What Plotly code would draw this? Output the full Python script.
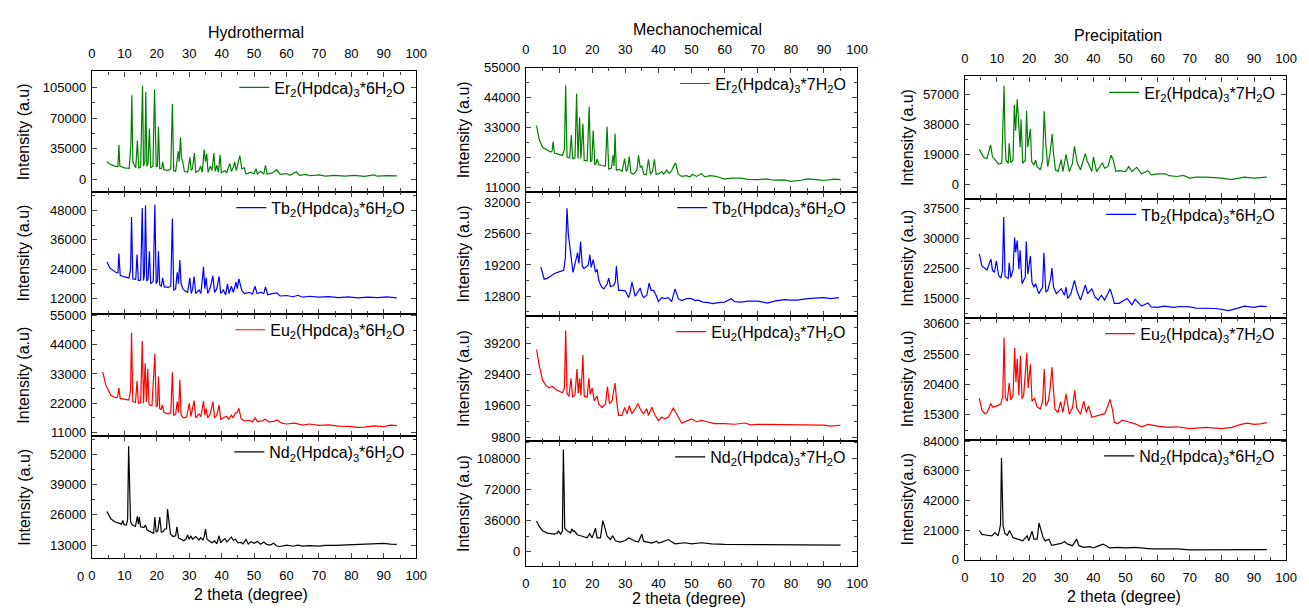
import plotly.graph_objects as go

W, H = 1309, 613

# ---------------- data (2 theta, intensity) ----------------
hydro_er = [(4.5,20000),(5.5,17500),(7,15000),(8.0,14500),(8.3,39000),(8.6,15000),(10,13000),(11.5,12500),(12.0,40000),(12.3,96000),
            (12.6,20000),(13.5,13000),(14.0,44000),(14.4,13000),(15.0,14000),(15.6,107000),(15.9,15000),(16.3,20000),(16.6,100000),(16.9,15000),
            (17.3,18000),(17.7,58000),(18.1,13000),(18.8,15000),(19.3,103000),(19.6,40000),(19.8,14000),(20.2,15000),(20.5,60000),(20.9,12000),
            (21.5,12000),(21.8,20000),(22.2,11000),(23.5,10000),(24.3,12000),(24.8,86000),(25.2,10000),(25.8,9000),(26.3,25000),(26.6,32000),
            (26.9,20000),(27.3,48000),(27.6,25000),(28.0,20000),(28.5,9000),(29.5,8000),(30.2,25000),(30.6,10000),(31.0,12000),(31.6,30000),
            (32.0,8000),(33.0,10000),(33.5,15000),(34.0,8000),(34.6,34000),(35.0,20000),(35.4,29000),(35.8,8000),(36.5,15000),(37.0,10000),
            (37.6,30000),(38.0,9000),(38.5,16000),(39.0,8000),(39.5,28000),(39.9,7500),(41.0,10000),(41.5,7000),(42.5,18000),(43.0,9000),
            (43.6,14000),(44.0,20000),(44.5,10000),(45.0,18000),(45.6,27000),(46.2,12000),(47.0,13000),(47.5,6000),(49.0,8000),(50.0,6000),
            (50.6,12000),(51.0,6000),(52.0,9000),(53.0,6000),(53.5,16000),(54.0,6000),(55.5,7000),(57.0,11000),(58.0,5500),(60.0,6500),
            (61.0,4500),(63.0,8500),(64.0,4500),(66.0,5500),(67.0,4000),(70.0,5000),(72.0,3500),(75.0,4500),(78.0,3500),(81.0,4500),
            (84.0,3200),(87.0,5000),(88.0,3500),(91.0,4200),(94.0,3800)]

hydro_tb = [(4.6,27000),(5.5,24500),(7.3,22700),(8.0,22500),(8.3,30400),(8.7,21500),(10,20800),(11.4,20400),(11.9,24000),(12.2,45300),
            (12.6,20000),(13.5,19800),(13.9,30000),(14.3,19300),(15.0,19500),(15.5,49000),(15.9,19300),(16.2,22000),(16.5,50000),(16.9,19000),
            (17.3,20000),(17.7,31300),(18.1,18000),(18.9,19000),(19.4,50300),(19.8,18000),(20.2,19000),(20.5,31300),(20.9,17500),(21.4,17000),
            (21.8,20400),(22.3,16700),(23.5,16500),(24.3,17000),(24.8,44700),(25.2,15300),(25.8,16000),(26.3,22700),(26.7,18000),(27.1,27700),
            (27.5,18000),(28.0,16000),(28.8,15000),(29.5,14500),(30.2,20400),(30.6,14000),(31.0,15500),(31.5,21000),(32.0,14000),(33.0,15500),
            (33.6,14000),(34.4,25000),(34.8,16000),(35.2,20400),(35.7,14000),(36.5,16500),(37.3,21300),(37.8,14500),(38.5,16000),(39.2,21000),
            (39.7,14000),(40.5,15500),(41.2,13500),(41.8,18000),(42.3,14000),(43.0,17000),(43.6,14500),(44.4,18700),(44.8,16000),(45.3,20000),
            (46.2,15300),(47.0,14000),(48.5,14500),(49.5,13800),(50.3,17000),(50.9,14000),(52.0,14500),(53.0,14000),(53.5,16700),(54.2,13500),
            (55.5,14000),(57.0,14300),(58.0,13000),(60.0,13200),(62.0,12700),(63.5,13300),(65.0,12500),(67.0,12900),(70.0,12500),(73.0,12700),
            (76.0,12300),(79.0,12600),(82.0,12200),(85.0,12500),(88.0,12300),(91.0,12600),(94.0,12200)]

hydro_eu = [(3.3,33800),(4.3,28700),(5.8,25000),(7.3,24000),(7.9,24300),(8.3,27700),(8.7,23800),(10.0,23400),(11.4,23200),(11.9,27000),
            (12.2,48500),(12.6,22600),(13.4,22300),(13.9,30300),(14.3,22000),(15.0,22200),(15.5,45400),(15.9,22000),(16.4,37000),(16.8,22500),
            (17.2,35000),(17.6,21500),(18.5,21000),(19.4,40600),(19.8,20800),(20.2,21000),(20.5,32000),(20.9,20000),(21.3,19500),(21.7,21400),
            (22.2,18500),(23.5,18000),(24.3,18500),(24.8,33600),(25.2,17500),(25.8,17800),(26.3,22600),(26.7,18500),(27.1,30800),(27.5,17500),
            (28.2,16500),(29.2,16800),(30.0,22000),(30.5,17000),(31.0,20100),(31.5,23000),(32.0,16500),(33.0,18000),(33.6,17000),(34.4,22800),
            (34.8,17500),(35.2,20000),(35.7,16500),(36.5,18000),(37.3,22600),(37.8,16500),(38.5,17500),(39.2,21400),(39.7,16000),(40.5,16500),
            (41.5,17100),(42.2,16000),(43.0,17500),(43.5,16500),(44.2,18300),(44.8,18500),(45.3,20100),(46.0,16200),(47.0,15300),(48.5,15600),
            (49.5,15000),(50.3,16500),(51.0,15100),(52.5,15400),(53.5,16000),(54.5,15000),(56.0,15200),(57.0,15700),(58.5,14500),(60.0,14200),
            (62.5,14500),(65.0,13800),(67.0,14200),(70.0,13700),(73.0,13900),(76.0,13400),(79.0,13300),(82.0,12900),(84.0,13000),(87.0,13500),
            (90.0,13200),(92.0,13800),(94.0,13600)]

hydro_nd = [(4.6,27400),(5.8,24300),(7.0,23000),(8.4,22300),(9.1,22000),(9.5,23600),(9.9,21800),(10.6,21600),(11.0,24000),(11.3,55500),
            (11.6,41600),(11.9,23000),(12.5,21600),(13.4,21000),(14.0,25400),(14.3,22000),(14.6,25000),(15.0,20900),(16.0,20500),(16.5,21600),
            (17.0,19500),(18.0,18800),(19.0,18100),(19.4,25000),(19.8,18500),(20.3,19100),(20.9,25000),(21.4,18500),(22.0,18800),(22.5,19900),
            (23.0,20000),(23.3,28500),(23.7,24000),(24.2,17800),(25.0,16700),(25.8,17000),(26.2,20900),(26.7,16000),(27.5,15500),(28.3,14900),
            (29.0,15600),(29.5,17400),(30.0,15500),(30.5,17000),(31.0,15500),(32.0,16700),(33.0,15200),(33.5,16200),(34.2,15200),(34.6,16500),
            (35.0,19900),(35.5,15500),(36.2,14800),(37.0,14000),(37.8,14800),(38.5,13500),(39.2,17000),(39.7,14000),(40.3,15000),(41.0,15800),
            (41.6,14300),(42.2,15200),(43.0,16500),(43.6,15000),(44.2,15600),(45.0,14000),(46.0,14200),(46.6,13500),(47.5,15400),(48.2,13500),
            (49.0,14500),(50.0,13800),(51.0,14600),(52.0,13400),(53.0,14300),(54.0,13200),(55.0,13000),(56.0,13800),(57.0,12600),(58.0,12400),
            (60.0,13000),(62.0,12500),(63.5,13000),(65.0,12600),(67.0,12800),(70.0,12600),(72.0,12900),(75.0,12900),(78.0,13100),(80.0,13300),
            (83.0,13200),(86.0,13500),(90.0,13700),(92.0,13400),(94.0,13300)]

mech_er = [(3.2,33800),(4.0,28800),(5.0,25900),(6.5,24700),(7.5,24100),(7.9,24500),(8.2,28000),(8.6,23800),(10.0,23300),(11.0,22900),
           (11.6,25000),(12.0,48500),(12.4,22300),(13.2,22000),(13.7,30400),(14.1,21700),(14.8,22000),(15.3,45500),(15.7,21700),(16.2,36900),
           (16.6,21800),(17.2,34500),(17.6,21000),(18.5,21000),(19.1,40700),(19.5,20500),(19.9,21000),(20.3,32000),(20.8,19500),(21.1,19800),
           (21.5,21500),(22.0,19500),(23.0,19200),(24.0,19000),(24.5,33400),(25.0,17900),(25.8,18300),(26.3,22900),(26.6,19000),(26.9,30900),
           (27.3,17500),(28.2,17800),(29.0,17000),(29.8,21700),(30.3,17000),(30.7,18000),(31.2,22500),(31.7,16500),(32.5,16000),(33.5,17500),
           (34.0,22900),(34.5,18500),(35.0,19000),(35.6,16000),(36.3,15800),(37.0,21500),(37.6,16000),(38.2,17000),(38.8,21500),(39.3,16000),
           (40.2,16200),(41.0,17000),(41.6,16000),(42.5,17500),(43.2,16300),(44.0,17200),(44.5,18700),(45.2,20200),(46.0,16000),(47.0,15200),
           (48.5,15500),(49.5,15000),(50.3,16000),(51.5,15200),(53.0,16200),(54.0,15000),(55.5,15500),(57.0,15300),(58.5,14800),(60.0,14200),
           (62.0,14600),(65.0,14600),(67.0,14100),(70.0,14000),(72.5,14300),(75.0,13800),(78.0,13900),(80.0,13400),(83.0,13800),(85.0,14300),
           (88.0,14000),(90.0,13700),(93.0,14200),(95.0,14000)]

mech_tb = [(4.5,18800),(5.5,16300),(6.5,16500),(7.5,17000),(8.5,17400),(9.5,17700),(10.5,17900),(11.4,18100),(11.9,20700),(12.4,30800),
           (12.8,25500),(13.4,22000),(14.2,17700),(15.0,20000),(15.6,21700),(16.0,19500),(16.5,24000),(17.0,19000),(17.5,18500),(18.0,18700),
           (18.8,19200),(19.3,21300),(19.7,18700),(20.3,20300),(21.0,17700),(21.5,18300),(22.0,16000),(22.8,14700),(23.5,14300),(24.5,15300),
           (25.0,16500),(25.5,14800),(26.5,15000),(27.0,15800),(27.3,19000),(27.7,16000),(28.0,14000),(29.0,14000),(30.0,13900),(31.0,12500),
           (31.5,13700),(32.0,15700),(32.6,13500),(33.0,12800),(34.0,13900),(34.5,14500),(35.0,13200),(35.5,12500),(36.5,13000),(37.2,15500),
           (37.8,14000),(38.5,14000),(39.3,13000),(40.0,11700),(41.0,12500),(42.0,12300),(43.0,12500),(44.0,11700),(45.0,14300),(45.6,13200),
           (46.0,12300),(47.0,11900),(48.5,12300),(50.0,12300),(51.0,11900),(52.0,12000),(53.5,11600),(55.0,11500),(56.5,11300),(58.0,11500),
           (60.0,11600),(62.0,12300),(63.0,11700),(65.0,11600),(67.0,11800),(70.0,11800),(72.0,11500),(73.0,11400),(75.0,11800),(78.0,12100),
           (80.0,12000),(82.0,12000),(85.0,12300),(88.0,12500),(90.0,12500),(92.0,12300),(94.5,12500)]

mech_eu = [(3.2,37200),(4.0,32300),(5.0,27700),(6.0,26000),(7.0,25200),(8.0,25700),(9.0,24700),(10.0,24200),(11.0,23700),(11.6,25000),
           (12.0,43200),(12.4,23500),(13.0,22500),(13.6,28200),(14.1,22300),(14.8,23000),(15.4,31100),(15.8,23500),(16.2,28200),(16.6,22800),
           (17.2,35500),(17.6,22600),(18.5,22300),(19.0,28200),(19.4,23200),(20.0,25200),(20.6,21200),(21.5,22600),(22.0,20100),(23.0,19100),
           (24.0,20100),(24.6,25600),(25.2,20300),(26.0,21100),(26.9,26700),(27.5,20000),(28.0,16600),(29.0,16600),(29.8,19100),(30.5,17100),
           (31.2,19600),(32.0,17100),(33.0,18600),(33.8,20300),(34.5,18600),(35.5,17100),(36.5,18600),(37.0,16600),(38.0,19100),(39.0,16600),
           (40.0,15000),(41.0,16000),(42.0,15500),(43.0,16000),(44.5,18800),(45.5,17100),(46.5,15000),(47.0,14200),(48.5,14800),(50.0,15500),
           (51.5,14600),(53.0,15000),(55.0,14500),(57.0,14000),(60.0,14000),(63.0,13800),(66.0,14200),(68.0,13600),(70.0,13800),(75.0,13700),
           (80.0,13800),(85.0,13700),(90.0,13500),(92.0,13200),(95.0,13500)]

mech_nd = [(3.2,35300),(4.0,29000),(5.0,24100),(6.5,21400),(8.5,20300),(9.5,21400),(9.8,24000),(10.5,20300),(11.0,23700),(11.3,118000),
           (11.5,77800),(11.7,27000),(12.5,24000),(13.5,21400),(13.8,26300),(14.3,23300),(14.6,24000),(15.5,19500),(17.0,17700),(18.5,16000),
           (19.2,20700),(20.0,15800),(21.0,27000),(21.5,15800),(22.5,15800),(23.2,35700),(23.6,30800),(24.5,17700),(25.5,13900),(26.2,18400),
           (27.0,12400),(28.5,10900),(30.0,12800),(31.0,15800),(32.0,13900),(33.0,12000),(34.0,11300),(35.0,20300),(35.5,12000),(37.0,10200),
           (38.0,9800),(39.5,12000),(40.0,9800),(41.0,10900),(43.0,13900),(44.0,11300),(45.0,9000),(48.0,10200),(50.0,9000),(53.0,10200),
           (56.0,9000),(60.0,8300),(65.0,8300),(70.0,7500),(80.0,7500),(90.0,7500),(95.0,7500)]

prec_er = [(4.5,22200),(5.9,17100),(6.9,16500),(8.0,25100),(8.6,17500),(10.5,13000),(11.5,13400),(12.2,62400),(12.5,29800),(12.8,15400),
           (13.5,13400),(13.8,26100),(14.3,13800),(15.0,15400),(15.4,50400),(15.8,34000),(16.3,53900),(16.8,32000),(17.2,23600),(17.5,41200),
           (18.0,13400),(18.8,15400),(19.2,46700),(19.6,23600),(20.4,35000),(20.8,14400),(21.5,12300),(22.0,15400),(22.5,11300),(23.5,9300),
           (24.2,15400),(24.7,46300),(25.2,25700),(25.8,11300),(26.5,19500),(27.2,31900),(27.6,19500),(28.2,9300),(29.0,8200),(30.0,15800),
           (30.5,8200),(31.5,19100),(32.5,8200),(33.5,13400),(34.1,24100),(35.0,13400),(36.0,9300),(37.5,19600),(38.0,15400),(39.5,8200),
           (40.0,17500),(41.0,8200),(42.8,13800),(43.5,10300),(44.5,11300),(45.5,18500),(46.2,15400),(47.0,8200),(48.0,8800),(50.0,8200),
           (51.0,11300),(52.0,8200),(53.5,10900),(55.0,6800),(57.0,8800),(58.0,6200),(60.0,6800),(62.5,6800),(63.5,5600),(66.0,5100),
           (68.0,5800),(70.0,4100),(72.0,4700),(75.0,4700),(78.0,4300),(80.0,4100),(83.0,3100),(85.0,3900),(87.0,4700),(90.0,4100),
           (92.0,4500),(94.0,4700)]

prec_tb = [(4.5,26100),(5.3,23100),(6.9,22100),(8.1,24800),(8.6,22000),(9.2,21500),(9.8,24400),(10.5,20700),(11.2,20100),(11.7,22000),
           (12.1,35300),(12.5,20500),(13.5,20000),(13.8,23900),(14.3,20200),(15.0,22100),(15.5,30200),(15.8,26500),(16.3,29400),(16.8,22300),
           (17.2,27000),(17.8,18700),(18.8,20300),(19.1,29200),(19.6,21100),(20.4,25600),(20.9,19000),(21.5,17800),(22.0,18700),(23.0,16200),
           (24.2,17800),(24.6,26400),(25.2,16600),(25.8,17000),(26.7,19900),(27.1,22600),(27.6,17800),(28.5,16200),(29.5,17000),(30.0,17400),
           (31.0,15800),(31.5,17800),(32.0,15000),(33.0,16200),(34.1,19500),(35.0,16600),(36.0,14600),(37.5,18400),(38.2,16200),(39.5,17400),
           (40.5,15400),(41.5,14600),(42.5,15800),(43.5,14600),(44.5,16200),(45.2,17400),(46.0,15400),(46.5,13800),(48.0,13800),(50.5,15000),
           (52.0,13400),(53.0,14800),(55.0,13100),(57.0,13900),(58.0,12900),(60.0,12800),(62.0,13100),(65.0,12800),(67.0,13000),(70.0,12900),
           (72.0,12600),(75.0,12600),(78.0,12500),(80.0,12300),(82.0,12000),(85.0,12600),(87.0,13100),(90.0,12800),(92.0,13100),(94.0,13000)]

prec_eu = [(4.5,18100),(5.3,16100),(6.2,15500),(6.9,15700),(8.1,17200),(8.6,16600),(10.0,16800),(11.2,17100),(11.8,18500),(12.2,28300),
           (12.6,18200),(13.2,17600),(13.8,20700),(14.3,17800),(15.0,18600),(15.5,26500),(15.9,20800),(16.3,24700),(16.8,18600),(17.3,25200),
           (17.8,18000),(18.3,18600),(19.3,25700),(19.7,19800),(20.4,23800),(20.9,17600),(21.7,18100),(22.5,16600),(23.5,16300),(24.2,17600),
           (24.7,23000),(25.2,16800),(26.0,17600),(26.6,20000),(27.1,23300),(27.5,19800),(28.0,16300),(29.0,15700),(29.8,17500),(30.5,15700),
           (31.5,18800),(32.5,15400),(33.5,16500),(34.2,19400),(34.8,16500),(36.0,15400),(37.0,17600),(37.8,15700),(38.5,16800),(39.5,14900),
           (41.0,15100),(42.5,15400),(43.5,15500),(44.5,16800),(45.2,17900),(46.0,16000),(46.5,14100),(47.5,13800),(49.0,14400),(51.0,14100),
           (53.0,13800),(55.0,13300),(57.0,13700),(60.0,13400),(63.0,13200),(66.0,13300),(70.0,13000),(75.0,13200),(80.0,13000),(83.0,13200),
           (86.0,13700),(88.0,13900),(90.0,13700),(92.0,13800),(94.0,14000)]

prec_nd = [(4.5,20700),(5.3,17900),(6.9,17300),(8.4,16800),(9.4,19100),(10.3,16800),(10.7,20200),(11.1,25000),(11.4,72000),(11.6,50100),
           (11.9,23700),(12.5,18400),(13.2,17300),(13.9,20700),(14.5,18400),(15.0,15600),(16.5,14500),(18.0,13300),(19.4,16800),(19.9,13300),
           (20.9,20200),(21.5,14500),(22.5,14500),(23.1,26000),(23.5,22500),(24.3,16100),(25.0,13300),(26.2,14500),(27.0,10100),(28.5,10600),
           (30.0,11500),(31.0,12900),(32.0,11000),(33.5,9900),(34.8,14500),(35.5,9900),(37.0,8700),(39.0,9200),(40.0,8300),(41.0,9200),
           (43.0,11000),(44.0,9900),(45.0,8300),(47.5,8700),(50.0,8300),(53.0,8700),(55.0,8300),(58.0,7600),(62.0,7600),(66.0,7600),
           (70.0,6900),(80.0,6900),(90.0,7100),(94.0,7100)]

column_titles = ["Hydrothermal", "Mechanochemical", "Precipitation"]
series_names = [
    ["Er<sub>2</sub>(Hpdca)<sub>3</sub>*6H<sub>2</sub>O", "Tb<sub>2</sub>(Hpdca)<sub>3</sub>*6H<sub>2</sub>O",
     "Eu<sub>2</sub>(Hpdca)<sub>3</sub>*6H<sub>2</sub>O", "Nd<sub>2</sub>(Hpdca)<sub>3</sub>*6H<sub>2</sub>O"],
    ["Er<sub>2</sub>(Hpdca)<sub>3</sub>*7H<sub>2</sub>O", "Tb<sub>2</sub>(Hpdca)<sub>3</sub>*6H<sub>2</sub>O",
     "Eu<sub>2</sub>(Hpdca)<sub>3</sub>*7H<sub>2</sub>O", "Nd<sub>2</sub>(Hpdca)<sub>3</sub>*7H<sub>2</sub>O"],
    ["Er<sub>2</sub>(Hpdca)<sub>3</sub>*7H<sub>2</sub>O", "Tb<sub>2</sub>(Hpdca)<sub>3</sub>*6H<sub>2</sub>O",
     "Eu<sub>2</sub>(Hpdca)<sub>3</sub>*7H<sub>2</sub>O", "Nd<sub>2</sub>(Hpdca)<sub>3</sub>*6H<sub>2</sub>O"],
]
series_data = [
    [hydro_er, hydro_tb, hydro_eu, hydro_nd],
    [mech_er, mech_tb, mech_eu, mech_nd],
    [prec_er, prec_tb, prec_eu, prec_nd],
]
y_ranges = [
    [(-14200, 123200), (5700, 55700), (9700, 55600), (7400, 59900)],
    [(9600, 55100), (8800, 34200), (8600, 47800), (-16600, 128000)],
    [(-8800, 68300), (10200, 39900), (11100, 31600), (-300, 84900)],
]
y_dticks = [
    [35000, 12000, 11000, 13000],
    [11000, 6400, 9800, 36000],
    [19000, 7500, 5100, 21000],
]
y_titles = [
    ["Intensity (a.u)"] * 4,
    ["Intensity (a.u)"] * 4,
    ["Intensity (a.u)"] * 3 + ["Intensity(a.u)"],
]
x_title = "2 theta (degree)"

# ---------------- styling / geometry ----------------
line_colors = ["#008000", "#0000FF", "#FF0000", "#000000"]
FONT = "Arial, 'Liberation Sans', sans-serif"
geom = [  # pixel geometry per column: (left, right, [(top, bottom) per row])
    (89, 417, [(66, 189), (189, 314), (314, 439), (439, 564)]),
    (528, 863, [(62, 189), (189, 316), (316, 444), (444, 572)]),
    (972, 1297, [(71, 196), (196, 318), (318, 443), (443, 566)]),
]
title_pos = [(255, 26), (702, 23), (1127, 29)]
xtitle_pos = [(250, 601), (693, 605), (1133, 603)]
ytitle_x = [20, 465, 914]

fig = go.Figure()
layout = dict(
    width=W, height=H, margin=dict(l=0, r=0, t=0, b=0),
    paper_bgcolor="white", plot_bgcolor="white",
    font=dict(family=FONT, size=13, color="black"),
    showlegend=True,
)
annotations = []

for c in range(3):
    x0, x1, rows = geom[c]
    for r in range(4):
        n = c * 4 + r + 1
        sfx = "" if n == 1 else str(n)
        top, bot = rows[r]
        pts = series_data[c][r]
        lg = "legend" + sfx
        fig.add_trace(go.Scatter(
            x=[p[0] for p in pts], y=[p[1] for p in pts], mode="lines",
            line=dict(color=line_colors[r], width=1.2),
            name=series_names[c][r], xaxis="x" + sfx, yaxis="y" + sfx,
            legend=lg, hoverinfo="x+y",
        ))
        xa = dict(
            domain=[x0 / W, x1 / W], anchor="y" + sfx, range=[0, 100],
            tick0=0, dtick=10, ticks="inside", ticklen=5, tickwidth=1.2,
            showline=True, linecolor="black", linewidth=1.4, mirror="allticks",
            showgrid=False, zeroline=False,
            minor=dict(tick0=0, dtick=5, ticks="inside", ticklen=3, tickwidth=1, showgrid=False),
            tickfont=dict(size=13, family=FONT),
            showticklabels=(r in (0, 3)), side=("top" if r == 0 else "bottom"),
            ticklabelstandoff=(7 if r == 0 else 5),
        )
        d = y_dticks[c][r]
        ya = dict(
            domain=[1 - bot / H, 1 - top / H], anchor="x" + sfx, range=list(y_ranges[c][r]),
            tick0=0, dtick=d, tickformat="d", ticks="inside", ticklen=5, tickwidth=1.2,
            showline=True, linecolor="black", linewidth=1.4, mirror="allticks",
            showgrid=False, zeroline=False,
            minor=dict(tick0=0, dtick=d / 2, ticks="inside", ticklen=3, tickwidth=1, showgrid=False),
            tickfont=dict(size=13, family=FONT), ticklabelstandoff=2,
        )
        layout["xaxis" + sfx] = xa
        layout["yaxis" + sfx] = ya
        layout[lg] = dict(
            x=(x1 - 6) / W, xanchor="right", y=1 - (top - 1) / H, yanchor="top",
            bgcolor="rgba(0,0,0,0)", borderwidth=0, font=dict(size=16, family=FONT),
            itemwidth=30, tracegroupgap=0,
        )
        annotations.append(dict(
            text=y_titles[c][r], x=ytitle_x[c] / W, y=1 - (top + bot) / 2 / H,
            xref="paper", yref="paper", textangle=-90, showarrow=False,
            font=dict(size=16, family=FONT), xanchor="center", yanchor="middle",
        ))
    annotations.append(dict(
        text=column_titles[c], x=title_pos[c][0] / W, y=1 - title_pos[c][1] / H,
        xref="paper", yref="paper", showarrow=False, font=dict(size=16, family=FONT),
        xanchor="center", yanchor="middle",
    ))
    annotations.append(dict(
        text=x_title, x=xtitle_pos[c][0] / W, y=1 - xtitle_pos[c][1] / H,
        xref="paper", yref="paper", showarrow=False, font=dict(size=16, family=FONT),
        xanchor="center", yanchor="middle",
    ))

# stray "0" label below the hydrothermal Nd panel (as in the original figure)
annotations.append(dict(
    text="0", x=83 / W, y=1 - 583 / H, xref="paper", yref="paper", showarrow=False,
    font=dict(size=13, family=FONT), xanchor="right", yanchor="middle",
))

layout["annotations"] = annotations
fig.update_layout(**layout)
fig.write_html(
    "out.html",
    config={"displayModeBar": False},
    post_script="document.body.style.margin='0px';document.body.style.padding='0px';document.body.style.overflow='hidden';",
)
